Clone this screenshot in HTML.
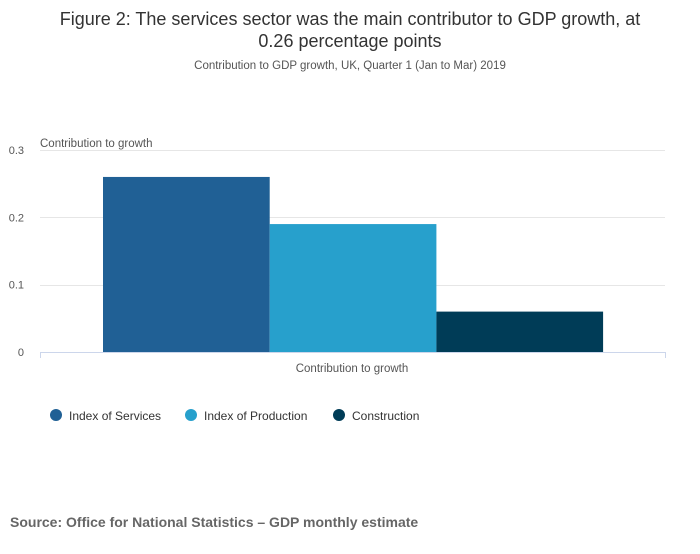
<!DOCTYPE html>
<html><head><meta charset="utf-8"><style>
body{margin:0;background:#fff;font-family:"Liberation Sans",sans-serif;}
svg text{font-family:"Liberation Sans",sans-serif;}
</style></head><body>
<svg width="700" height="549">
<text x="350" y="25" text-anchor="middle" font-size="18" fill="#333">Figure 2: The services sector was the main contributor to GDP growth, at</text>
<text x="350" y="47" text-anchor="middle" font-size="18" fill="#333">0.26 percentage points</text>
<text x="350" y="69" text-anchor="middle" font-size="11.5" fill="#555">Contribution to GDP growth, UK, Quarter 1 (Jan to Mar) 2019</text>
<g id="grid"></g>
<text x="40" y="147" font-size="11.5" fill="#555">Contribution to growth</text>
<g id="bars"></g>
<line x1="40" y1="352.5" x2="665" y2="352.5" stroke="#ccd6eb"/>
<line x1="40.5" y1="352" x2="40.5" y2="358" stroke="#ccd6eb"/>
<line x1="665.5" y1="352" x2="665.5" y2="358" stroke="#ccd6eb"/>
<text x="352" y="372" text-anchor="middle" font-size="11.5" fill="#555">Contribution to growth</text>
<g id="legend"></g>
<text x="10" y="527" font-size="14" font-weight="bold" fill="#666">Source: Office for National Statistics – GDP monthly estimate</text>
</svg>
<script>
const series=["Index of Services","Index of Production","Construction"];
const values=[0.26,0.19,0.06];
const colors=["#206095","#27a0cc","#003c57"];
const ticks=[0,0.1,0.2,0.3];
const NS="http://www.w3.org/2000/svg";
const y=v=>352-v*673.3;
const grid=document.getElementById('grid');
ticks.forEach(t=>{
 if(t>0){const l=document.createElementNS(NS,'line');
 l.setAttribute('x1',40);l.setAttribute('x2',665);l.setAttribute('y1',Math.round(y(t))+0.5);l.setAttribute('y2',Math.round(y(t))+0.5);l.setAttribute('stroke','#e6e6e6');
 
 
 grid.appendChild(l);}
 const tx=document.createElementNS(NS,'text');
 tx.setAttribute('x',24);tx.setAttribute('y',y(t)+4);tx.setAttribute('text-anchor','end');tx.setAttribute('font-size','11');tx.setAttribute('fill','#555');
 tx.textContent=String(t);
 
 
 grid.appendChild(tx);
});
const bars=document.getElementById('bars');
const x0=103,bw=166.7;
values.forEach((v,i)=>{
 const r=document.createElementNS(NS,'rect');
 r.setAttribute('x',x0+i*bw);r.setAttribute('width',bw);r.setAttribute('y',y(v));r.setAttribute('height',352-y(v));r.setAttribute('fill',colors[i]);
 
 
 bars.appendChild(r);
});
const lg=document.getElementById('legend');
const lx=[56,191,339];
series.forEach((s,i)=>{
 const g=document.createElementNS(NS,'g');
 
 
 const c=document.createElementNS(NS,'circle');
 c.setAttribute('cx',lx[i]);c.setAttribute('cy',415);c.setAttribute('r',6);c.setAttribute('fill',colors[i]);
 const t=document.createElementNS(NS,'text');
 t.setAttribute('x',lx[i]+13);t.setAttribute('y',420);t.setAttribute('font-size','12');t.setAttribute('fill','#333');t.textContent=s;
 g.appendChild(c);g.appendChild(t);lg.appendChild(g);
});
</script>
</body></html>
